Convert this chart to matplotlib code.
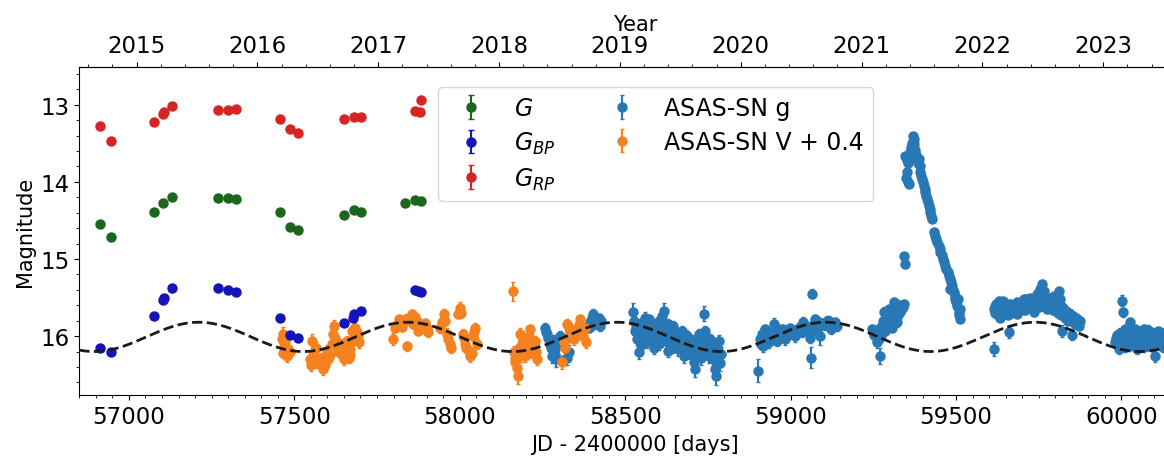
import numpy as np
import matplotlib
matplotlib.use('Agg')
import matplotlib.pyplot as plt
from matplotlib.ticker import MultipleLocator, FixedLocator, FormatStrFormatter

# Gaia epochs (JD - 2400000) and magnitudes
g_jd = [56912, 56946, 57077, 57104, 57131, 57270, 57299, 57325, 57457, 57486,
        57510, 57650, 57681, 57702, 57836, 57866, 57884]
g_mag = [14.55, 14.72, 14.39, 14.27, 14.19, 14.21, 14.21, 14.22, 14.39, 14.59,
         14.62, 14.43, 14.37, 14.39, 14.28, 14.23, 14.25]
g_err = [0.01, 0.01, 0.01, 0.01, 0.01, 0.01, 0.01, 0.01, 0.01, 0.01,
         0.01, 0.01, 0.01, 0.01, 0.01, 0.01, 0.01]

bp_jd = [56912, 56946, 57077, 57104, 57106, 57131, 57270, 57299, 57325, 57457,
         57486, 57510, 57650, 57676, 57681, 57702, 57866, 57874, 57884]
bp_mag = [16.16, 16.20, 15.74, 15.53, 15.50, 15.37, 15.38, 15.40, 15.43, 15.76,
          15.99, 16.03, 15.83, 15.76, 15.71, 15.68, 15.40, 15.41, 15.43]
bp_err = [0.01, 0.01, 0.01, 0.01, 0.01, 0.01, 0.01, 0.01, 0.01, 0.01,
          0.01, 0.01, 0.01, 0.01, 0.01, 0.01, 0.01, 0.01, 0.01]

rp_jd = [56912, 56946, 57077, 57103, 57106, 57131, 57270, 57299, 57325, 57457,
         57486, 57510, 57650, 57681, 57702, 57864, 57880, 57884]
rp_mag = [13.28, 13.47, 13.22, 13.12, 13.09, 13.02, 13.07, 13.07, 13.05, 13.18,
          13.32, 13.37, 13.18, 13.16, 13.16, 13.08, 13.09, 12.94]
rp_err = [0.01, 0.01, 0.01, 0.01, 0.01, 0.01, 0.01, 0.01, 0.01, 0.01,
          0.01, 0.01, 0.01, 0.01, 0.01, 0.01, 0.01, 0.01]

# ASAS-SN V (shifted by +0.4)
v_jd = [57462, 57467, 57469, 57465, 57482, 57477, 57472, 57486,
        57546, 57553, 57558, 57568, 57588, 57583, 57598, 57603,
        57550, 57560, 57565, 57575, 57593, 57608, 57613,
        57618, 57620, 57628, 57633, 57643, 57654, 57659, 57664, 57669, 57674, 57684, 57691,
        57623, 57638, 57648, 57651, 57657, 57662, 57667, 57677, 57688, 57695,
        57798, 57805, 57815, 57830, 57840, 57845, 57855, 57860, 57870, 57875, 57890, 57900,
        57810, 57820, 57825, 57835, 57850, 57865, 57880, 57885, 57895, 57905,
        57941, 57951, 57956, 57961, 57966, 57973, 57946, 57970,
        57996, 58001, 58009, 58016, 58027, 58032, 58040, 58047, 58052,
        58005, 58012, 58020, 58036, 58044,
        58161,
        58163, 58168, 58175, 58181, 58188, 58198, 58205, 58213, 58221, 58228, 58235,
        58166, 58172, 58178, 58185, 58192, 58201, 58209, 58217, 58225, 58232,
        58309, 58314, 58319, 58324, 58334, 58344, 58349, 58354, 58364, 58374, 58382,
        58329, 58339, 58359, 58369, 58378]
v_mag = [16.04, 15.97, 16.13, 16.22, 16.17, 16.26, 16.08, 16.20,
         16.30, 16.06, 16.23, 16.34, 16.43, 16.28, 16.19, 16.30,
         16.38, 16.28, 16.15, 16.35, 16.38, 16.25, 16.10,
         15.97, 15.87, 16.08, 16.19, 16.15, 16.23, 16.06, 16.28, 16.17, 15.93, 15.89, 16.00,
         16.02, 16.22, 16.10, 16.30, 16.18, 16.12, 16.24, 16.05, 15.95, 16.08,
         16.04, 15.89, 15.78, 15.82, 16.13, 15.76, 15.71, 15.84, 15.80, 15.93, 15.87, 15.89,
         15.85, 15.80, 15.88, 15.78, 15.80, 15.75, 15.85, 15.90, 15.83, 15.95,
         15.89, 15.71, 15.80, 15.97, 16.04, 16.15, 15.82, 16.10,
         15.71, 15.63, 15.97, 16.10, 16.19, 16.26, 16.00, 15.89, 16.10,
         15.70, 16.02, 16.15, 16.22, 15.95,
         15.42,
         16.21, 16.34, 16.52, 15.97, 16.10, 16.26, 16.04, 15.91, 16.17, 16.06, 16.30,
         16.28, 16.42, 16.15, 16.25, 16.05, 16.15, 16.00, 16.22, 16.12, 16.20,
         16.34, 16.08, 16.15, 15.84, 15.95, 16.04, 15.98, 15.89, 15.78, 16.00, 16.08,
         15.90, 16.00, 15.85, 15.95, 15.90]
v_err = [0.10, 0.09, 0.07, 0.06, 0.06, 0.07, 0.06, 0.07,
         0.08, 0.09, 0.06, 0.07, 0.08, 0.06, 0.07, 0.06,
         0.07, 0.06, 0.07, 0.06, 0.07, 0.06, 0.07,
         0.07, 0.08, 0.06, 0.06, 0.07, 0.06, 0.06, 0.07, 0.06, 0.07, 0.06, 0.06,
         0.06, 0.07, 0.06, 0.07, 0.06, 0.06, 0.07, 0.06, 0.06, 0.07,
         0.08, 0.06, 0.06, 0.05, 0.06, 0.05, 0.05, 0.06, 0.05, 0.06, 0.05, 0.06,
         0.05, 0.06, 0.05, 0.05, 0.06, 0.05, 0.05, 0.06, 0.05, 0.06,
         0.07, 0.06, 0.06, 0.07, 0.06, 0.07, 0.06, 0.07,
         0.06, 0.07, 0.06, 0.07, 0.06, 0.08, 0.06, 0.06, 0.07,
         0.06, 0.07, 0.06, 0.07, 0.06,
         0.12,
         0.08, 0.09, 0.10, 0.07, 0.08, 0.07, 0.07, 0.06, 0.07, 0.06, 0.08,
         0.08, 0.09, 0.07, 0.08, 0.07, 0.07, 0.06, 0.07, 0.07, 0.08,
         0.09, 0.07, 0.07, 0.06, 0.06, 0.07, 0.06, 0.06, 0.06, 0.06, 0.07,
         0.06, 0.07, 0.06, 0.06, 0.07]

# ASAS-SN g
asg_jd = [58258, 58263, 58273, 58279, 58289, 58292, 58299, 58329, 58334,
          58260, 58268, 58276, 58284, 58287, 58295, 58302, 58325, 58338,
          58394, 58399, 58404, 58409, 58415, 58420, 58425,
          58392, 58397, 58402, 58407, 58412, 58417, 58422, 58427,
          58525, 58530, 58535, 58540, 58543, 58551, 58556, 58561, 58566, 58571,
          58576, 58581, 58586, 58591, 58596, 58601, 58606, 58611, 58616, 58618,
          58624, 58628, 58631, 58636, 58641, 58646, 58651, 58656, 58661, 58666,
          58672, 58677, 58682, 58687, 58692, 58697, 58702, 58707, 58712, 58717,
          58722, 58727, 58732, 58737, 58742, 58747, 58752, 58757, 58762, 58767,
          58772, 58775, 58779, 58785, 58789,
          58527, 58533, 58538, 58546, 58548, 58553, 58559, 58563, 58569, 58573,
          58578, 58583, 58588, 58593, 58598, 58603, 58608, 58613, 58621, 58626,
          58633, 58638, 58643, 58648, 58653, 58658, 58663, 58669, 58674, 58679,
          58684, 58689, 58694, 58699, 58704, 58709, 58714, 58719, 58724, 58729,
          58734, 58739, 58744, 58749, 58754, 58759, 58764, 58769, 58777, 58782, 58787,
          58903, 58908, 58913, 58918, 58924, 58931, 58939, 58949, 58954, 58959,
          58969, 58974, 58984, 58994, 59004, 59014, 59024, 59034, 59039, 59049,
          59058, 59062, 59065, 59070, 59075, 59082, 59090, 59115, 59122, 59130, 59140,
          58910, 58916, 58921, 58927, 58935, 58944, 58951, 58957, 58964, 58972,
          58979, 58989, 58999, 59009, 59019, 59029, 59044, 59054, 59068, 59078,
          59086, 59095, 59105, 59110, 59125, 59135,
          59246, 59253, 59261, 59266, 59271, 59276, 59281, 59286, 59291, 59297,
          59302, 59307, 59312, 59317, 59322, 59327, 59332, 59337, 59342,
          59249, 59258, 59263, 59269, 59273, 59279, 59284, 59289, 59294, 59299,
          59304, 59309, 59314, 59319, 59324, 59329, 59334, 59339,
          59343, 59345,
          59347, 59352, 59357, 59362, 59367, 59370, 59374, 59377, 59382, 59387, 59352, 59357,
          59349, 59355, 59360, 59365, 59372, 59380, 59385, 59390, 59350, 59354,
          59392, 59397, 59402, 59407, 59412, 59417, 59422, 59428, 59435, 59441, 59448, 59453,
          59461, 59468, 59475, 59481, 59483, 59488, 59493, 59498, 59503, 59505, 59508, 59513,
          59395, 59400, 59405, 59410, 59415, 59420, 59425, 59438, 59444, 59451,
          59457, 59464, 59471, 59478, 59486, 59491, 59496, 59501, 59510, 59511,
          59614, 59614, 59619, 59624, 59629, 59634, 59634, 59644, 59654, 59659,
          59664, 59675, 59685, 59685, 59695, 59705, 59715, 59725, 59735, 59735,
          59745, 59755, 59760, 59765, 59775, 59775, 59785, 59795, 59800, 59811,
          59816, 59821, 59826, 59836, 59846, 59851, 59856, 59866, 59871,
          59617, 59622, 59627, 59632, 59639, 59642, 59649, 59652, 59657, 59662,
          59667, 59670, 59680, 59690, 59692, 59700, 59702, 59710, 59712, 59720,
          59722, 59730, 59740, 59742, 59750, 59752, 59758, 59762, 59768, 59770,
          59780, 59782, 59790, 59793, 59798, 59805, 59808, 59813, 59818, 59823,
          59830, 59833, 59840, 59843, 59848, 59853, 59860, 59863, 59868, 59874,
          59982, 59987, 59992, 60002, 60005, 60012, 60017, 60022, 60027, 60032,
          60037, 60042, 60047, 60058, 60063, 60068, 60073, 60078, 60088, 60093,
          60103, 60108, 60118, 60123, 60128, 60140, 60150,
          59984, 59990, 59995, 60000, 60008, 60010, 60015, 60020, 60025, 60030,
          60035, 60040, 60045, 60050, 60053, 60056, 60061, 60066, 60071, 60076,
          60081, 60084, 60091, 60096, 60099, 60106, 60111, 60114, 60121, 60126,
          60131, 60135]
asg_mag = [15.89, 15.97, 16.10, 16.26, 16.17, 16.30, 16.04, 16.21, 16.00,
           15.95, 16.02, 16.15, 16.05, 16.25, 16.12, 16.00, 16.28, 15.95,
           15.82, 15.76, 15.71, 15.80, 15.84, 15.76, 15.87,
           15.90, 15.80, 15.86, 15.75, 15.78, 15.82, 15.80, 15.80,
           15.69, 15.93, 16.04, 15.84, 16.21, 16.00, 15.89, 15.76, 16.08, 15.93,
           15.82, 16.02, 16.15, 15.87, 15.95, 15.80, 16.06, 15.74, 15.67, 15.91,
           16.00, 16.19, 15.84, 15.93, 16.04, 15.87, 16.10, 15.97, 16.17, 16.04,
           15.93, 16.26, 16.08, 16.00, 16.15, 16.06, 16.21, 16.34, 16.43, 16.08,
           15.97, 16.17, 16.04, 15.71, 15.93, 16.10, 16.26, 16.04, 16.19, 16.30,
           16.43, 16.52, 16.15, 16.06, 16.23,
           15.80, 15.88, 15.95, 15.90, 16.12, 15.82, 16.02, 15.86, 16.00, 15.78,
           15.92, 15.85, 16.05, 15.98, 15.88, 16.10, 15.92, 15.85, 16.05, 15.95,
           16.10, 15.98, 16.15, 16.00, 15.95, 16.05, 16.12, 16.00, 16.10, 16.18,
           15.98, 16.10, 16.22, 16.12, 16.05, 16.20, 16.25, 16.15, 16.08, 16.28,
           16.12, 16.00, 16.18, 16.05, 16.15, 16.25, 16.10, 16.20, 16.30, 16.18, 16.35,
           16.45, 16.04, 15.97, 16.13, 15.91, 16.06, 16.00, 15.84, 15.93, 16.06,
           16.00, 15.91, 16.04, 15.97, 15.93, 16.00, 15.89, 15.95, 15.82, 15.91,
           16.02, 16.28, 15.45, 15.84, 15.78, 15.89, 16.00, 15.80, 15.91, 15.84, 15.87,
           16.10, 16.02, 16.05, 15.98, 16.08, 15.95, 16.00, 15.90, 15.96, 15.98,
           15.92, 16.00, 15.90, 15.95, 15.92, 15.88, 15.86, 15.90, 15.93, 15.86,
           15.82, 15.84, 15.86, 15.80, 15.88, 15.82,
           15.91, 15.99, 16.08, 16.04, 16.26, 15.87, 15.69, 15.93, 15.76, 15.65,
           15.82, 15.89, 15.56, 15.74, 15.82, 15.65, 15.69, 15.61, 15.58,
           15.95, 16.00, 15.95, 15.90, 16.00, 15.80, 15.85, 15.82, 15.72, 15.78,
           15.70, 15.75, 15.66, 15.64, 15.72, 15.60, 15.66, 15.62,
           14.96, 15.07,
           13.66, 13.72, 13.70, 13.61, 13.49, 13.40, 13.51, 13.59, 13.70, 13.70, 13.87, 14.03,
           13.68, 13.75, 13.64, 13.55, 13.45, 13.65, 13.75, 13.80, 13.95, 14.00,
           13.87, 13.96, 14.05, 14.13, 14.22, 14.31, 14.39, 14.48, 14.65, 14.74, 14.83, 14.91,
           15.00, 15.09, 15.17, 15.26, 15.39, 15.35, 15.43, 15.52, 15.61, 15.52, 15.69, 15.78,
           13.92, 14.00, 14.09, 14.18, 14.26, 14.35, 14.44, 14.70, 14.78, 14.87,
           14.95, 15.04, 15.13, 15.22, 15.30, 15.42, 15.48, 15.56, 15.72, 15.65,
           16.17, 15.65, 15.61, 15.69, 15.54, 15.65, 15.76, 15.61, 15.69, 15.95,
           15.58, 15.65, 15.56, 15.71, 15.63, 15.52, 15.58, 15.50, 15.54, 15.69,
           15.46, 15.39, 15.32, 15.41, 15.52, 15.65, 15.56, 15.48, 15.65, 15.41,
           15.61, 15.93, 15.69, 15.74, 15.71, 15.99, 15.82, 15.78, 15.87,
           15.70, 15.58, 15.72, 15.60, 15.70, 15.55, 15.66, 15.58, 15.72, 15.64,
           15.70, 15.60, 15.62, 15.68, 15.58, 15.64, 15.55, 15.66, 15.52, 15.62,
           15.55, 15.64, 15.58, 15.50, 15.62, 15.46, 15.50, 15.44, 15.55, 15.60,
           15.62, 15.50, 15.58, 15.66, 15.55, 15.60, 15.70, 15.52, 15.72, 15.64,
           15.76, 15.68, 15.80, 15.70, 15.78, 15.74, 15.84, 15.76, 15.82, 15.80,
           16.08, 15.99, 16.17, 15.54, 15.69, 15.91, 16.04, 16.13, 15.82, 15.99,
           16.08, 15.91, 16.17, 15.99, 16.08, 15.91, 16.13, 16.04, 15.95, 16.08,
           16.26, 16.04, 15.95, 16.08, 15.99, 16.05, 16.10,
           16.02, 16.10, 15.96, 16.12, 16.00, 16.14, 15.95, 16.06, 16.00, 16.10,
           15.96, 16.12, 16.02, 15.94, 16.10, 16.04, 15.96, 16.14, 15.98, 16.10,
           15.92, 16.08, 16.00, 16.14, 15.98, 16.10, 15.94, 16.12, 16.02, 16.14,
           15.96, 16.08]
asg_err = [0.06, 0.07, 0.08, 0.09, 0.07, 0.10, 0.07, 0.10, 0.07,
           0.06, 0.07, 0.08, 0.07, 0.09, 0.07, 0.06, 0.09, 0.07,
           0.06, 0.05, 0.06, 0.05, 0.06, 0.05, 0.06,
           0.05, 0.06, 0.05, 0.06, 0.05, 0.06, 0.05, 0.05,
           0.12, 0.07, 0.08, 0.06, 0.09, 0.07, 0.06, 0.07, 0.08, 0.06,
           0.06, 0.07, 0.08, 0.06, 0.07, 0.06, 0.08, 0.07, 0.10, 0.06,
           0.06, 0.08, 0.06, 0.07, 0.07, 0.06, 0.08, 0.07, 0.09, 0.07,
           0.06, 0.09, 0.07, 0.06, 0.08, 0.07, 0.08, 0.09, 0.10, 0.07,
           0.06, 0.08, 0.07, 0.10, 0.06, 0.08, 0.09, 0.07, 0.08, 0.09,
           0.10, 0.12, 0.08, 0.07, 0.09,
           0.06, 0.07, 0.06, 0.07, 0.08, 0.06, 0.07, 0.06, 0.07, 0.06,
           0.07, 0.06, 0.07, 0.06, 0.07, 0.08, 0.06, 0.07, 0.07, 0.06,
           0.08, 0.06, 0.07, 0.07, 0.06, 0.07, 0.08, 0.06, 0.07, 0.08,
           0.06, 0.07, 0.08, 0.07, 0.06, 0.08, 0.09, 0.07, 0.06, 0.09,
           0.07, 0.06, 0.08, 0.07, 0.07, 0.09, 0.07, 0.08, 0.09, 0.08, 0.10,
           0.15, 0.09, 0.07, 0.08, 0.06, 0.07, 0.06, 0.07, 0.06, 0.07,
           0.06, 0.06, 0.07, 0.06, 0.06, 0.07, 0.06, 0.06, 0.07, 0.06,
           0.07, 0.14, 0.06, 0.07, 0.06, 0.06, 0.12, 0.06, 0.06, 0.06, 0.06,
           0.07, 0.06, 0.07, 0.06, 0.07, 0.06, 0.06, 0.06, 0.07, 0.06,
           0.06, 0.07, 0.06, 0.06, 0.06, 0.06, 0.06, 0.06, 0.06, 0.06,
           0.06, 0.06, 0.06, 0.06, 0.06, 0.06,
           0.06, 0.07, 0.08, 0.07, 0.10, 0.06, 0.07, 0.06, 0.06, 0.05,
           0.06, 0.06, 0.05, 0.05, 0.06, 0.05, 0.05, 0.05, 0.05,
           0.06, 0.07, 0.06, 0.07, 0.06, 0.06, 0.06, 0.05, 0.06, 0.05,
           0.05, 0.05, 0.05, 0.05, 0.05, 0.05, 0.05, 0.05,
           0.03, 0.03,
           0.03, 0.03, 0.03, 0.03, 0.03, 0.03, 0.03, 0.03, 0.03, 0.03, 0.03, 0.03,
           0.03, 0.03, 0.03, 0.03, 0.03, 0.03, 0.03, 0.03, 0.03, 0.03,
           0.03, 0.03, 0.03, 0.03, 0.03, 0.03, 0.03, 0.03, 0.04, 0.04, 0.04, 0.04,
           0.04, 0.04, 0.04, 0.04, 0.04, 0.04, 0.04, 0.04, 0.04, 0.04, 0.04, 0.04,
           0.03, 0.03, 0.03, 0.03, 0.03, 0.03, 0.03, 0.04, 0.04, 0.04,
           0.04, 0.04, 0.04, 0.04, 0.04, 0.04, 0.04, 0.04, 0.04, 0.04,
           0.09, 0.05, 0.05, 0.05, 0.05, 0.05, 0.05, 0.05, 0.05, 0.07,
           0.05, 0.05, 0.05, 0.05, 0.05, 0.05, 0.05, 0.05, 0.05, 0.05,
           0.05, 0.05, 0.05, 0.05, 0.05, 0.05, 0.05, 0.05, 0.05, 0.05,
           0.05, 0.08, 0.05, 0.05, 0.05, 0.06, 0.05, 0.05, 0.05,
           0.05, 0.05, 0.05, 0.05, 0.05, 0.05, 0.05, 0.05, 0.05, 0.05,
           0.05, 0.05, 0.05, 0.05, 0.05, 0.05, 0.05, 0.05, 0.05, 0.05,
           0.05, 0.05, 0.05, 0.05, 0.05, 0.05, 0.05, 0.05, 0.05, 0.05,
           0.05, 0.05, 0.05, 0.05, 0.05, 0.05, 0.05, 0.05, 0.05, 0.05,
           0.05, 0.05, 0.05, 0.05, 0.05, 0.05, 0.05, 0.05, 0.05, 0.05,
           0.06, 0.06, 0.06, 0.07, 0.06, 0.06, 0.06, 0.06, 0.06, 0.06,
           0.06, 0.06, 0.06, 0.06, 0.06, 0.06, 0.06, 0.06, 0.06, 0.06,
           0.08, 0.06, 0.06, 0.06, 0.06, 0.06, 0.06,
           0.06, 0.06, 0.06, 0.06, 0.06, 0.06, 0.06, 0.06, 0.06, 0.06,
           0.06, 0.06, 0.06, 0.06, 0.06, 0.06, 0.06, 0.06, 0.06, 0.06,
           0.06, 0.06, 0.06, 0.06, 0.06, 0.06, 0.06, 0.06, 0.06, 0.06,
           0.06, 0.06]

# sinusoidal model
model_period = 632.0
model_t_max = 57843.0
model_mean = 16.01
model_amp = 0.19

year_ticks = [2015, 2016, 2017, 2018, 2019, 2020, 2021, 2022, 2023]


def jd2yr(jd):
    return 2000.0 + (jd - 51544.5) / 365.25


def yr2jd(yr):
    return 51544.5 + (yr - 2000.0) * 365.25


fig = plt.figure(figsize=(11.64, 4.64), dpi=100)
ax = fig.add_axes([0.0681, 0.1455, 0.955, 0.708])

ms = 6.5
ax.errorbar(g_jd, g_mag, yerr=g_err, fmt='o', color='#1b661b', ms=ms, capsize=2, label='$G$', zorder=3)
ax.errorbar(bp_jd, bp_mag, yerr=bp_err, fmt='o', color='#1414b8', ms=ms, capsize=2, label='$G_{BP}$', zorder=3)
ax.errorbar(rp_jd, rp_mag, yerr=rp_err, fmt='o', color='#d42424', ms=ms, capsize=2, label='$G_{RP}$', zorder=3)
ax.errorbar(asg_jd, asg_mag, yerr=asg_err, fmt='o', color='#2878b5', ms=ms, capsize=1.5,
            elinewidth=1.5, label='ASAS-SN g', zorder=2)
ax.errorbar(v_jd, v_mag, yerr=v_err, fmt='o', color='#f58220', ms=ms, capsize=1.5,
            elinewidth=1.5, label='ASAS-SN V + 0.4', zorder=2)

xm = np.linspace(56850, 60210, 1500)
ax.plot(xm, model_mean - model_amp * np.cos(2 * np.pi * (xm - model_t_max) / model_period),
        '--', color='#1a1a1a', lw=2, zorder=4)

ax.set_xlim(56850, 60210)
ax.set_ylim(16.77, 12.51)
ax.xaxis.set_major_locator(MultipleLocator(500))
ax.xaxis.set_minor_locator(MultipleLocator(50))
ax.yaxis.set_major_locator(MultipleLocator(1))
ax.yaxis.set_minor_locator(MultipleLocator(0.2))
ax.tick_params(labelsize=16.5)
ax.set_xlabel('JD - 2400000 [days]', fontsize=15)
ax.set_ylabel('Magnitude', fontsize=15)

sec = ax.secondary_xaxis('top', functions=(jd2yr, yr2jd))
sec.xaxis.set_major_locator(FixedLocator(year_ticks))
sec.xaxis.set_minor_locator(MultipleLocator(0.2))
sec.xaxis.set_major_formatter(FormatStrFormatter('%d'))
sec.tick_params(labelsize=16.5)
sec.set_xlabel('Year', fontsize=15, labelpad=3)

ax.legend(ncol=2, fontsize=17, loc='upper left', bbox_to_anchor=(0.323, 0.939),
          borderaxespad=0, columnspacing=1.8, labelspacing=0.4)

fig.savefig('out.png', dpi=100)
